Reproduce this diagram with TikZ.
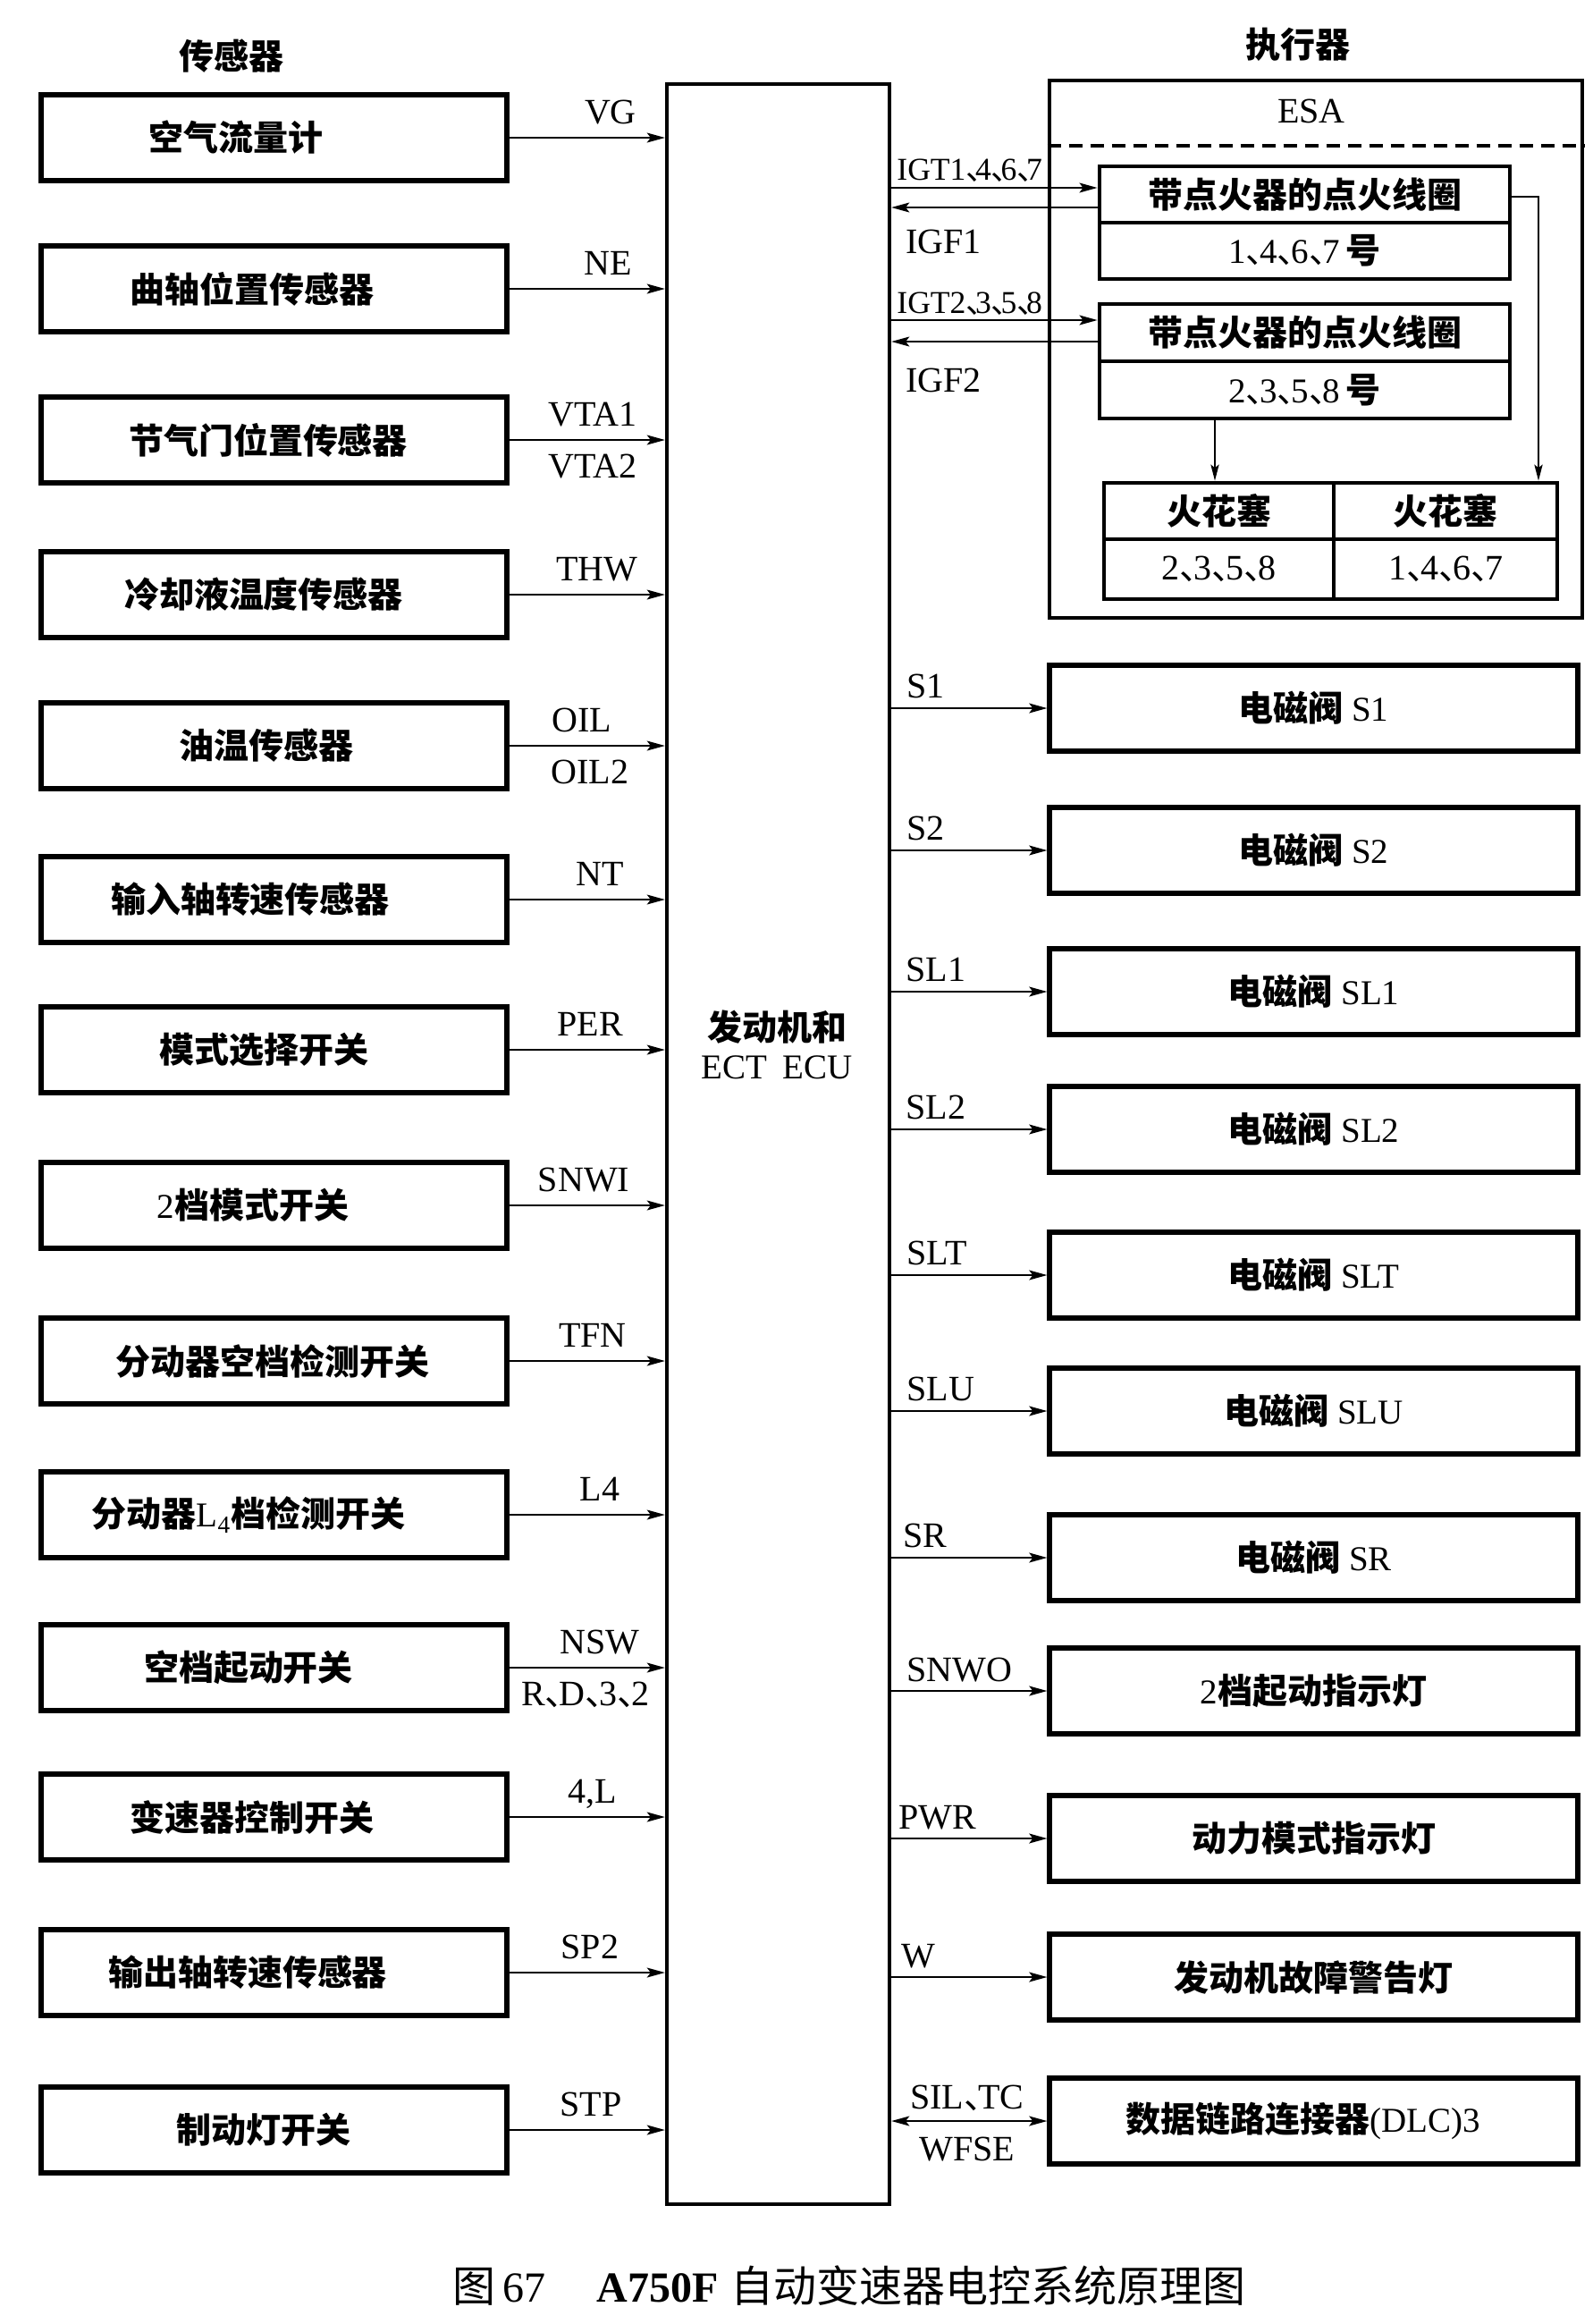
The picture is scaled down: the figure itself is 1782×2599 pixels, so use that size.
\documentclass[tikz,border=0pt]{standalone}
\usepackage{fontspec}
\setmainfont{Liberation Serif}
\newfontfamily\cjk{Noto Sans CJK SC}
\usetikzlibrary{arrows.meta}
\newcommand\zh[1]{{\cjk\bfseries #1}}
\newcommand\zr[1]{{\cjk #1}}
\newcommand\dn{{\cjk 、}\kern-0.6em}
\newcommand\dnt{{\cjk 、}\kern-0.7em}
\newcommand\mkleft[4]{%
  \node[lbox] (#1) at (306.5,#2) {};
  \node[btxt] (#1t) at (#3,#2) {#4};
  \draw[arr] (#1.east) -- (#1.east -| ecu.west);}
\newcommand\mksigl[4]{\node[sig,anchor=base] (#1) at (#2,#3) {#4};}
\newcommand\mkright[3]{%
  \node[rbox] (#1) at (1469.5,#2) {};
  \node[btxt] (#1t) at (1469.5,#2) {#3};
  \draw[arr] (ecu.east |- #1.west) -- (#1.west);}
\newcommand\mksigr[4]{\node[sig,anchor=base west] (#1) at (#2,#3) {#4};}
\begin{document}
\begin{tikzpicture}[x=0.5pt,y=-0.5pt,
  lbox/.style={draw,line width=2.6pt,minimum width=260.5pt,minimum height=48pt,inner sep=0pt},
  rbox/.style={draw,line width=2.6pt,minimum width=295.5pt,minimum height=48pt,inner sep=0pt},
  cell/.style={draw,line width=2.4pt,inner sep=0pt},
  btxt/.style={font=\fontsize{19.5pt}{21.5pt}\selectfont,inner sep=0pt},
  sig/.style={font=\fontsize{20pt}{22pt}\selectfont,inner sep=0pt},
  igt/.style={font=\fontsize{17.8pt}{20pt}\selectfont,inner sep=0pt,anchor=base west},
  ttl/.style={font=\fontsize{19.5pt}{22pt}\selectfont\cjk\bfseries,inner sep=0pt},
  tip/.tip={Stealth[length=10pt,width=5.4pt,inset=2pt]},
  arr/.style={line width=1.3pt,-tip},
  arrtwo/.style={line width=1.3pt,tip-tip},
  thinarr/.style={line width=1.1pt,-{Stealth[length=9pt,width=4.6pt,inset=1.8pt]}},
]
\useasboundingbox (0,0) rectangle (1782,2599);
\fill[white] (0,0) rectangle (1782,2599);

% titles
\node[ttl] (tsens) at (259,63) {传感器};
\node[ttl] (tact) at (1452,50) {执行器};

% ECU
\node[draw,line width=2.1pt,minimum width=124.5pt,minimum height=1185.5pt,inner sep=0pt] (ecu) at (870.5,1279.5) {};
\node[btxt,align=center] (ecutxt) at (869,1168) {\zh{发动机和}\\ECT\hspace{0.45em}ECU};

% left sensor boxes
\mkleft{l1}{154}{264}{\zh{空气流量计}}
\mkleft{l2}{323}{282}{\zh{曲轴位置传感器}}
\mkleft{l3}{492}{300}{\zh{节气门位置传感器}}
\mkleft{l4}{665}{295}{\zh{冷却液温度传感器}}
\mkleft{l5}{834}{298}{\zh{油温传感器}}
\mkleft{l6}{1006}{280}{\zh{输入轴转速传感器}}
\mkleft{l7}{1174}{295}{\zh{模式选择开关}}
\mkleft{l8}{1348}{283}{2\zh{档模式开关}}
\mkleft{l9}{1522}{305}{\zh{分动器空档检测开关}}
\mkleft{l10}{1694}{278}{\zh{分动器}L\textsubscript{4}\zh{档检测开关}}
\mkleft{l11}{1865}{278}{\zh{空档起动开关}}
\mkleft{l12}{2032}{282}{\zh{变速器控制开关}}
\mkleft{l13}{2206}{277}{\zh{输出轴转速传感器}}
\mkleft{l14}{2382}{295}{\zh{制动灯开关}}

% left signal labels
\mksigl{sVG}{683}{138}{VG}
\mksigl{sNE}{680}{307}{NE}
\mksigl{sVTAa}{663}{476}{VTA1}
\mksigl{sVTAb}{663}{534}{VTA2}
\mksigl{sTHW}{668}{649}{THW}
\mksigl{sOIL}{651}{818}{OIL}
\mksigl{sOILb}{660}{876}{OIL2}
\mksigl{sNT}{671}{990}{NT}
\mksigl{sPER}{660}{1158}{PER}
\mksigl{sSNWI}{653}{1332}{SNWI}
\mksigl{sTFN}{663}{1506}{TFN}
\mksigl{sL4}{671}{1678}{L4}
\mksigl{sNSW}{671}{1849}{NSW}
\mksigl{sRD}{655}{1907}{R\dn D\dn 3\dn 2}
\mksigl{s4L}{663}{2016}{4,L}
\mksigl{sSP}{660}{2190}{SP2}
\mksigl{sSTP}{661}{2366}{STP}

% right actuator boxes
\mkright{r1}{792}{\zh{电磁阀} S1}
\mkright{r2}{951}{\zh{电磁阀} S2}
\mkright{r3}{1109}{\zh{电磁阀} SL1}
\mkright{r4}{1263}{\zh{电磁阀} SL2}
\mkright{r5}{1426}{\zh{电磁阀} SLT}
\mkright{r6}{1578}{\zh{电磁阀} SLU}
\mkright{r7}{1742}{\zh{电磁阀} SR}
\mkright{r8}{1891}{2\zh{档起动指示灯}}
\mkright{r9}{2056}{\zh{动力模式指示灯}}
\mkright{r10}{2211}{\zh{发动机故障警告灯}}
\node[rbox] (r11) at (1469.5,2372) {};
\node[btxt] (r11t) at (1458,2372) {\zh{数据链路连接器}(DLC)3};
\draw[arrtwo] (ecu.east |- r11.west) -- (r11.west);

% right signal labels
\mksigr{oS1}{1014}{780}{S1}
\mksigr{oS2}{1014}{939}{S2}
\mksigr{oSL1}{1013}{1097}{SL1}
\mksigr{oSL2}{1013}{1251}{SL2}
\mksigr{oSLT}{1014}{1414}{SLT}
\mksigr{oSLU}{1014}{1566}{SLU}
\mksigr{oSR}{1010}{1730}{SR}
\mksigr{oSNWO}{1014}{1880}{SNWO}
\mksigr{oPWR}{1005}{2045}{PWR}
\mksigr{oW}{1008}{2200}{W}
\mksigr{oSIL}{1018}{2358}{SIL\dn TC}
\mksigr{oWFSE}{1028}{2416}{WFSE}

% ESA
\node[draw,line width=2.4pt,minimum width=298pt,minimum height=300.5pt,inner sep=0pt] (esa) at (1472,390.5) {};
\coordinate (dashy) at (0,163);
\draw[line width=1.6pt,dash pattern=on 7.5pt off 4.5pt] (esa.west |- dashy) -- (esa.east |- dashy);
\node[sig] (esat) at (1467,124) {ESA};

\node[cell,minimum width=229.5pt,minimum height=31.5pt] (c1a) at (1459.5,217.5) {};
\node[cell,minimum width=229.5pt,minimum height=31.5pt] (c1b) at (1459.5,280.5) {};
\node[cell,minimum width=229.5pt,minimum height=32pt] (c2a) at (1459.5,372) {};
\node[cell,minimum width=229.5pt,minimum height=32pt] (c2b) at (1459.5,436) {};
\node[btxt] at (c1a) {\zh{带点火器的点火线圈}};
\node[btxt] at (c1b) {1\dn 4\dn 6\dn 7\,\zh{号}};
\node[btxt] at (c2a) {\zh{带点火器的点火线圈}};
\node[btxt] at (c2b) {2\dn 3\dn 5\dn 8\,\zh{号}};

\node[cell,minimum width=128.5pt,minimum height=31.5pt] (p1a) at (1363.5,571.5) {};
\node[cell,minimum width=128.5pt,minimum height=33.5pt] (p1b) at (1363.5,636.5) {};
\node[cell,minimum width=125pt,minimum height=31.5pt] (p2a) at (1617,571.5) {};
\node[cell,minimum width=125pt,minimum height=33.5pt] (p2b) at (1617,636.5) {};
\node[btxt] at (p1a) {\zh{火花塞}};
\node[btxt] at (p2a) {\zh{火花塞}};
\node[btxt,font=\fontsize{20pt}{22pt}\selectfont] at (p1b) {2\dn 3\dn 5\dn 8};
\node[btxt,font=\fontsize{20pt}{22pt}\selectfont] at (p2b) {1\dn 4\dn 6\dn 7};

% ignition signals
\coordinate (yIGT1) at (0,210);
\coordinate (yIGF1) at (0,232);
\coordinate (yIGT2) at (0,358);
\coordinate (yIGF2) at (0,382);
\draw[arr] (ecu.east |- yIGT1) -- (c1a.west |- yIGT1);
\draw[arr] (c1a.west |- yIGF1) -- (ecu.east |- yIGF1);
\draw[arr] (ecu.east |- yIGT2) -- (c2a.west |- yIGT2);
\draw[arr] (c2a.west |- yIGF2) -- (ecu.east |- yIGF2);
\node[igt] (lIGT1) at (1003,201) {IGT1\dnt 4\dnt 6\dnt 7};
\node[sig,anchor=base west] (lIGF1) at (1013,283) {IGF1};
\node[igt] (lIGT2) at (1003,350) {IGT2\dnt 3\dnt 5\dnt 8};
\node[sig,anchor=base west] (lIGF2) at (1013,438) {IGF2};

% coil to spark plugs
\coordinate (xA) at (1359,0);
\coordinate (xB) at (1721,0);
\coordinate (yB) at (0,220);
\draw[thinarr] (c2b.south -| xA) -- (p1a.north -| xA);
\draw[thinarr] (c1a.east |- yB) -| (p2a.north -| xB);

% caption
\node[inner sep=0pt,font=\fontsize{24pt}{26pt}\selectfont] (cap) at (950,2556)
  {\zr{图}\,67\hspace{1.2em}{\bfseries A750F}\hspace{0.3em}\zr{自动变速器电控系统原理图}};
\end{tikzpicture}
\end{document}
